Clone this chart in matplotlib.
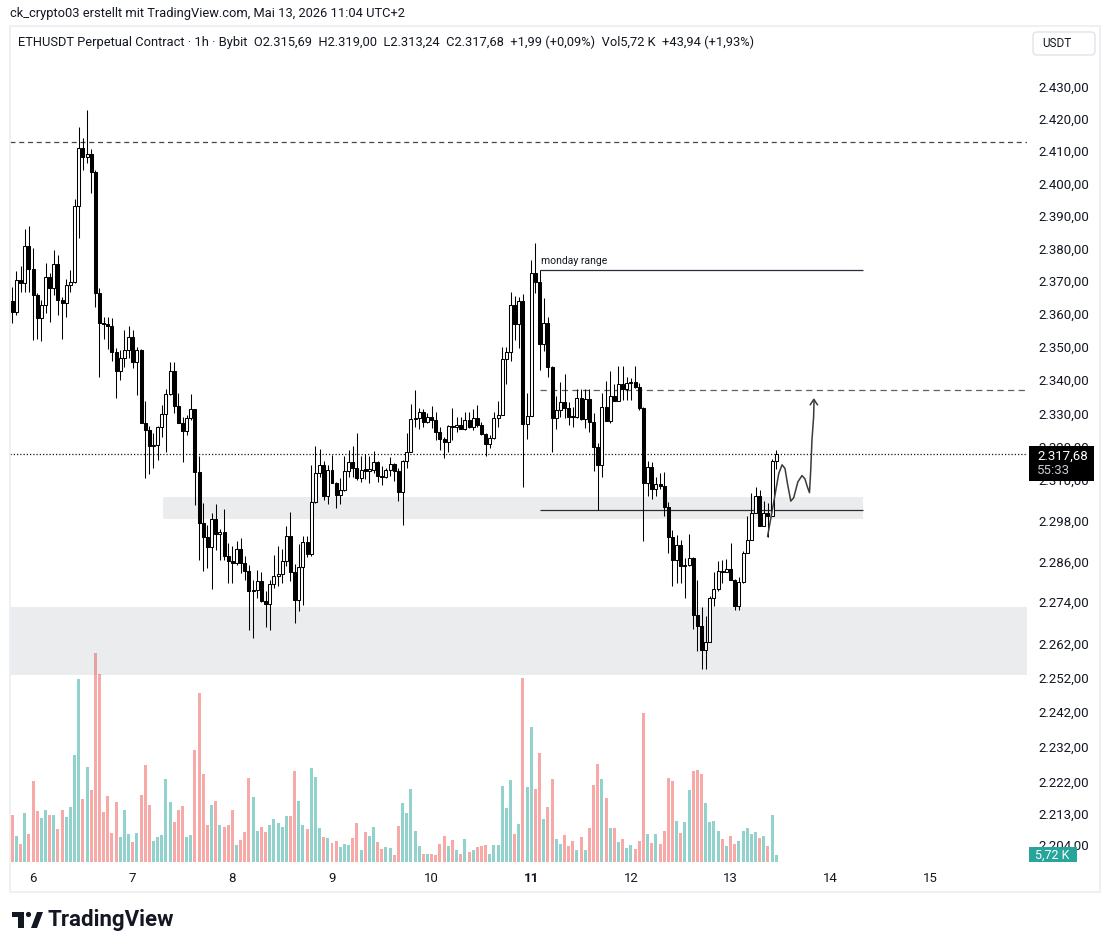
import numpy as np
import matplotlib
matplotlib.use('Agg')
import matplotlib.pyplot as plt
from matplotlib.ticker import FixedLocator, FuncFormatter, NullLocator
from matplotlib.patches import Rectangle, FancyBboxPatch, Circle, Polygon

plt.rcParams['font.family'] = ['Roboto', 'DejaVu Sans']

# ETHUSDT 1h candles, first candle = 5 May 19:00, last = 13 May 11:00
open_px = [
    2364.0, 2360.7, 2370.3, 2369.5, 2380.8, 2373.6, 2365.8, 2358.7, 2362.7, 2371.3,
    2367.8, 2375.2, 2364.2, 2363.2, 2368.8, 2369.6, 2392.9, 2411.1, 2408.3, 2409.1,
    2403.6, 2366.5, 2357.4, 2356.9, 2356.2, 2348.4, 2342.8, 2346.7, 2349.1, 2352.9,
    2345.3, 2349.1, 2327.2, 2325.0, 2320.3, 2320.4, 2325.8, 2329.7, 2335.7, 2342.8,
    2332.3, 2327.2, 2324.8, 2328.5, 2331.2, 2312.4, 2297.3, 2293.1, 2290.2, 2298.5,
    2294.0, 2294.7, 2287.5, 2286.0, 2285.5, 2289.6, 2285.5, 2283.3, 2277.4, 2277.5,
    2280.3, 2274.3, 2273.5, 2279.3, 2281.6, 2282.4, 2286.0, 2293.6, 2282.8, 2274.6,
    2284.4, 2291.7, 2288.2, 2303.5, 2312.2, 2314.6, 2305.2, 2313.1, 2309.3, 2305.5,
    2307.2, 2312.8, 2315.4, 2313.6, 2310.8, 2313.1, 2312.9, 2313.1, 2315.4, 2311.3,
    2311.1, 2313.1, 2314.8, 2312.9, 2306.4, 2315.8, 2318.4, 2328.2, 2328.6, 2330.5,
    2327.5, 2329.0, 2328.0, 2324.5, 2322.2, 2321.5, 2326.2, 2326.0, 2326.5, 2325.4,
    2328.0, 2325.8, 2328.5, 2326.4, 2323.7, 2320.7, 2322.5, 2328.5, 2329.5, 2346.3,
    2348.4, 2362.7, 2356.9, 2364.0, 2326.7, 2329.2, 2372.6, 2369.6, 2350.8, 2357.2,
    2343.9, 2328.7, 2331.0, 2333.5, 2331.7, 2329.0, 2328.9, 2334.5, 2328.2, 2334.3,
    2327.5, 2319.8, 2314.6, 2331.8, 2327.8, 2335.2, 2333.8, 2338.8, 2337.2, 2339.0,
    2339.3, 2338.0, 2331.7, 2309.1, 2314.0, 2307.4, 2309.0, 2308.2, 2302.0, 2293.3,
    2286.3, 2290.9, 2284.5, 2284.8, 2287.0, 2270.2, 2267.0, 2260.0, 2262.3, 2275.3,
    2277.9, 2283.2, 2283.0, 2283.8, 2280.4, 2273.0, 2279.9, 2288.4, 2292.4, 2300.3,
    2305.4, 2296.5, 2300.3, 2299.5, 2315.69,
]
high_px = [
    2368.1, 2373.0, 2374.7, 2385.9, 2386.9, 2380.0, 2366.3, 2364.3, 2375.4, 2372.4,
    2379.5, 2378.0, 2365.3, 2370.6, 2373.4, 2395.2, 2417.6, 2414.0, 2422.8, 2410.6,
    2404.2, 2367.8, 2359.2, 2359.2, 2358.7, 2349.6, 2349.1, 2355.1, 2356.2, 2355.1,
    2350.1, 2349.5, 2333.8, 2326.2, 2324.0, 2326.2, 2332.5, 2337.2, 2345.3, 2345.3,
    2336.0, 2329.0, 2329.5, 2335.8, 2331.4, 2317.1, 2303.2, 2296.8, 2300.2, 2303.0,
    2295.5, 2301.5, 2291.4, 2290.4, 2292.1, 2292.9, 2287.5, 2285.0, 2280.6, 2283.5,
    2283.0, 2277.2, 2280.6, 2288.0, 2290.6, 2289.6, 2296.5, 2300.7, 2285.3, 2291.2,
    2293.4, 2293.4, 2314.6, 2320.3, 2319.3, 2315.8, 2314.6, 2317.6, 2309.5, 2310.6,
    2317.1, 2319.1, 2320.3, 2324.2, 2317.3, 2317.9, 2317.1, 2318.8, 2315.8, 2314.1,
    2313.6, 2316.9, 2315.1, 2313.6, 2316.1, 2324.2, 2332.8, 2337.0, 2331.5, 2331.2,
    2330.2, 2332.2, 2330.5, 2326.0, 2323.0, 2326.5, 2331.5, 2329.0, 2329.0, 2330.5,
    2330.5, 2331.2, 2332.5, 2327.5, 2324.0, 2323.5, 2330.5, 2333.8, 2350.1, 2350.1,
    2366.8, 2365.5, 2365.3, 2366.0, 2336.0, 2376.5, 2381.8, 2373.4, 2364.8, 2359.2,
    2344.3, 2335.3, 2339.5, 2341.9, 2333.5, 2332.0, 2337.2, 2337.2, 2337.2, 2337.2,
    2330.2, 2321.0, 2336.0, 2339.8, 2342.8, 2338.8, 2344.3, 2344.3, 2341.0, 2340.5,
    2344.1, 2339.0, 2332.0, 2315.6, 2315.3, 2311.0, 2312.2, 2312.6, 2303.4, 2295.3,
    2293.9, 2292.4, 2287.0, 2294.1, 2287.2, 2280.4, 2272.5, 2269.9, 2275.7, 2283.0,
    2286.0, 2286.3, 2286.7, 2291.4, 2280.8, 2281.3, 2288.9, 2299.3, 2306.2, 2307.9,
    2307.2, 2303.7, 2303.2, 2316.2, 2319.00,
]
low_px = [
    2357.2, 2359.8, 2366.8, 2366.8, 2366.8, 2352.1, 2352.4, 2351.8, 2360.2, 2357.7,
    2365.8, 2359.7, 2352.3, 2359.2, 2366.8, 2369.5, 2383.1, 2404.2, 2406.2, 2396.9,
    2362.2, 2341.0, 2352.3, 2349.3, 2345.6, 2334.7, 2340.0, 2344.0, 2346.6, 2343.6,
    2335.6, 2327.0, 2310.8, 2311.9, 2313.6, 2316.1, 2322.8, 2318.4, 2335.5, 2330.0,
    2327.0, 2315.3, 2323.5, 2328.0, 2302.7, 2286.5, 2283.3, 2284.1, 2277.9, 2289.4,
    2286.3, 2286.3, 2279.6, 2279.6, 2284.8, 2282.6, 2280.6, 2266.0, 2263.6, 2275.3,
    2274.0, 2266.7, 2266.0, 2278.2, 2278.7, 2279.6, 2284.6, 2280.1, 2267.9, 2271.3,
    2273.3, 2287.4, 2287.6, 2303.2, 2311.1, 2304.0, 2302.9, 2309.1, 2301.7, 2302.9,
    2306.9, 2311.1, 2311.1, 2310.1, 2309.6, 2310.3, 2309.1, 2312.2, 2309.6, 2308.6,
    2310.6, 2311.3, 2309.9, 2303.7, 2296.8, 2313.5, 2318.4, 2326.0, 2325.2, 2325.8,
    2327.0, 2325.7, 2322.0, 2319.1, 2316.6, 2318.5, 2322.0, 2324.5, 2325.2, 2325.0,
    2325.5, 2325.0, 2326.0, 2323.5, 2317.3, 2319.6, 2322.2, 2326.0, 2329.5, 2338.7,
    2345.6, 2352.0, 2349.6, 2308.1, 2322.2, 2329.2, 2366.3, 2343.1, 2348.8, 2341.0,
    2318.3, 2325.2, 2329.0, 2328.5, 2326.5, 2326.0, 2328.5, 2328.0, 2325.5, 2324.5,
    2312.9, 2301.2, 2311.1, 2327.8, 2327.2, 2333.7, 2333.8, 2334.0, 2334.0, 2334.0,
    2337.5, 2331.0, 2292.0, 2305.2, 2304.4, 2305.2, 2307.4, 2299.5, 2288.6, 2278.7,
    2279.6, 2279.6, 2275.3, 2284.5, 2266.2, 2259.7, 2254.6, 2254.6, 2262.3, 2272.8,
    2277.2, 2279.6, 2282.8, 2280.4, 2271.6, 2271.8, 2279.6, 2288.4, 2292.2, 2300.3,
    2296.3, 2296.3, 2293.1, 2299.3, 2313.24,
]
close_px = open_px[1:] + [2317.68]

# volume in thousands
volume_k = [
    38.5, 21.3, 14.8, 40.2, 23.0, 66.4, 41.8, 36.1, 42.6, 38.5,
    38.5, 27.1, 42.6, 36.9, 45.1, 87.7, 150.0, 51.7, 77.9, 59.0,
    171.4, 154.1, 41.0, 54.1, 23.8, 49.2, 20.5, 42.6, 23.0, 16.4,
    23.8, 54.9, 79.5, 46.7, 17.2, 20.5, 22.1, 68.1, 49.2, 32.8,
    42.6, 45.9, 20.5, 22.1, 91.8, 138.6, 72.2, 30.3, 46.7, 50.0,
    30.3, 28.7, 30.3, 42.6, 13.9, 18.0, 24.6, 68.9, 53.3, 25.4,
    28.7, 24.6, 30.3, 35.3, 32.0, 28.7, 37.7, 37.7, 74.6, 50.0,
    30.3, 27.1, 77.1, 69.7, 27.9, 20.5, 19.7, 15.6, 17.2, 12.3,
    14.8, 13.9, 19.7, 32.0, 9.8, 24.6, 21.3, 28.7, 16.4, 10.7,
    12.3, 11.5, 5.7, 29.5, 48.4, 40.2, 59.9, 25.4, 13.1, 6.6,
    6.6, 6.6, 5.7, 14.8, 21.3, 13.1, 18.0, 9.8, 6.6, 18.9,
    8.2, 9.8, 12.3, 13.1, 13.9, 6.6, 13.9, 13.9, 62.3, 44.3,
    67.2, 23.0, 31.2, 150.9, 61.5, 110.7, 59.9, 89.4, 35.3, 45.1,
    68.1, 18.9, 14.8, 22.1, 13.1, 17.2, 9.8, 20.5, 9.8, 27.9,
    63.1, 80.4, 68.1, 52.5, 27.9, 27.9, 16.4, 18.9, 11.5, 13.9,
    10.7, 17.2, 122.2, 23.0, 15.6, 23.0, 14.8, 25.4, 68.9, 66.4,
    33.6, 23.8, 32.8, 59.0, 74.6, 75.4, 72.2, 48.4, 32.8, 33.6,
    25.4, 18.9, 13.1, 21.3, 14.8, 17.2, 25.4, 27.9, 23.0, 24.6,
    19.7, 21.3, 13.1, 38.5, 5.72,
]

price_ticks = [2430, 2420, 2410, 2400, 2390, 2380, 2370, 2360, 2350, 2340, 2330,
               2320, 2310, 2298, 2286, 2274, 2262, 2252, 2242, 2232, 2222, 2213, 2204]
day_labels = ['6', '7', '8', '9', '10', '11', '12', '13', '14', '15']

# drawings (hours after 6 May 00:00, price)
top_dash = 2412.9
mid_dash = 2336.9
monday_high = 2373.4
monday_low = 2301.1
monday_start, monday_end = 122.1, 199.85
zone_upper = (31.3, 199.85, 2298.6, 2304.9)
zone_lower = (2252.7, 2272.6)
last_price = 2317.68
wave_t = [176.9, 178.6, 179.6, 180.4, 181.1, 181.7, 182.5, 183.2, 184.2, 185.2,
          185.9, 186.5, 187.0, 187.3, 187.6, 188.0, 188.1]
wave_p = [2293.3, 2305.0, 2312.0, 2314.6, 2313.5, 2309.0, 2303.8, 2304.8, 2309.5, 2311.4,
          2310.4, 2308.0, 2306.3, 2313.0, 2322.0, 2329.0, 2334.0]
arrow_t = [187.2, 188.05, 188.9]
arrow_p = [2332.6, 2334.2, 2332.6]

hours = np.arange(len(close_px)) - 5
o = np.array(open_px); c = np.array(close_px)
h = np.array(high_px); l = np.array(low_px)
up = c >= o

W, H = 1110, 951
fig = plt.figure(figsize=(W / 100, H / 100), dpi=100)
rect = [10 / W, 1 - 862 / H, 1017 / W, 834 / H]
axv = fig.add_axes(rect, zorder=0)
ax = fig.add_axes(rect, zorder=1, sharex=axv)
ax.patch.set_visible(False)

# volume
vcol = np.where(up, '#92d2cc', '#f7a9a7')
axv.bar(hours, volume_k, width=0.72, color=vcol, linewidth=0)
axv.set_ylim(0, 684)
axv.axis('off')

# candles
ax.set_yscale('log')
ax.vlines(hours, l, h, color='black', linewidth=0.75, zorder=3)
body_lo = np.minimum(o, c)
body_h = np.maximum(np.abs(c - o), 0.3)
ax.bar(hours[up], body_h[up], bottom=body_lo[up], width=0.72,
       facecolor='white', edgecolor='black', linewidth=0.75, zorder=4)
ax.bar(hours[~up], body_h[~up], bottom=body_lo[~up], width=0.72,
       facecolor='black', edgecolor='black', linewidth=0.75, zorder=4)

x0, x1 = -5.554, 239.39
ax.set_xlim(x0, x1)
ax.set_ylim(2199.18, 2448.53)

# zones and lines
ax.axhspan(zone_lower[0], zone_lower[1], facecolor='#787b86', alpha=0.14, edgecolor='none', zorder=1)
ax.add_patch(Rectangle((zone_upper[0], zone_upper[2]), zone_upper[1] - zone_upper[0],
                       zone_upper[3] - zone_upper[2], facecolor='#787b86', alpha=0.14,
                       edgecolor='none', zorder=1))
ax.axhline(top_dash, color='#434651', linewidth=0.9, dashes=(4, 3), zorder=2)
ax.hlines(mid_dash, monday_start, x1, color='#5d606b', linewidth=0.9, linestyles=(0, (5, 3.5)), zorder=2)
ax.axhline(last_price, color='#131722', linewidth=0.9, linestyle=(0, (1, 1.6)), zorder=2)
ax.hlines([monday_high, monday_low], monday_start, monday_end, color='#2a2e39', linewidth=0.9, zorder=2)
ax.text(monday_start + 0.3, 2376.0, 'monday range', fontsize=7.5, color='#131722', va='center', ha='left')
ax.plot(wave_t, wave_p, color='#3b3b3b', linewidth=1.1, zorder=5, solid_capstyle='round')
ax.plot(arrow_t, arrow_p, color='#3b3b3b', linewidth=1.1, zorder=5)

# axes styling
for s in ax.spines.values():
    s.set_visible(False)
ax.yaxis.tick_right()
ax.yaxis.set_major_locator(FixedLocator(price_ticks))
ax.yaxis.set_minor_locator(NullLocator())
de = lambda v, pos=None: f'{v:,.2f}'.replace(',', 'X').replace('.', ',').replace('X', '.')
ax.yaxis.set_major_formatter(FuncFormatter(de))
ax.tick_params(axis='y', length=0, pad=8, labelsize=9.5, labelcolor='#131722')
ax.set_xticks(np.arange(len(day_labels)) * 24)
ax.set_xticklabels(day_labels)
ax.tick_params(axis='x', length=0, pad=7, labelsize=9.5, labelcolor='#131722')
for t in ax.get_xticklabels():
    if t.get_text() == '11':
        t.set_fontweight('bold')

# overlay in pixel coordinates for chrome
ov = fig.add_axes([0, 0, 1, 1], zorder=5)
ov.set_xlim(0, W); ov.set_ylim(H, 0); ov.axis('off')
ov.add_patch(Rectangle((10, 26), 1090, 866, fill=False, edgecolor='#eceef2', linewidth=1.2))
ov.text(10, 14, 'ck_crypto03 erstellt mit TradingView.com, Mai 13, 2026 11:04 UTC+2',
        fontsize=9.3, color='#131722', va='center')
ov.text(18, 42, 'ETHUSDT Perpetual Contract · 1h · Bybit  O2.315,69  H2.319,00  L2.313,24  '
        'C2.317,68  +1,99 (+0,09%)  Vol5,72 K  +43,94 (+1,93%)',
        fontsize=9.3, color='#131722', va='center')
ov.add_patch(FancyBboxPatch((1033, 32), 62, 23, boxstyle='round,pad=0,rounding_size=4',
                            facecolor='white', edgecolor='#e0e3eb', linewidth=1))
ov.text(1057, 43.5, 'USDT', fontsize=8.5, color='#131722', ha='center', va='center')
ov.add_patch(Rectangle((1029, 446), 65, 35, facecolor='black', edgecolor='none'))
ov.text(1037, 456, '2.317,68', fontsize=9.5, color='white', va='center')
ov.text(1037, 470, '55:33', fontsize=9.5, color='#c8cbd3', va='center')
ov.add_patch(Rectangle((1029, 847), 48, 15, facecolor='#26a69a', edgecolor='none'))
ov.text(1035, 855, '5,72 K', fontsize=9, color='white', va='center')

# TradingView logo
ov.add_patch(Rectangle((12, 912), 12, 5, facecolor='#131722', edgecolor='none'))
ov.add_patch(Rectangle((18, 912), 6, 16, facecolor='#131722', edgecolor='none'))
ov.add_patch(Circle((28.5, 914.5), 2.6, facecolor='#131722', edgecolor='none'))
ov.add_patch(Polygon([(31, 928), (37, 928), (43, 912), (37, 912)], closed=True,
                     facecolor='#131722', edgecolor='none'))
ov.text(47, 920, 'TradingView', fontsize=16, fontweight='semibold', color='#131722', va='center')

fig.savefig('out.png', dpi=100)
